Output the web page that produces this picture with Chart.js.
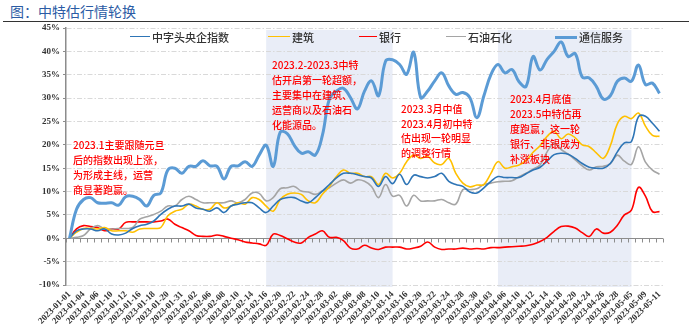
<!DOCTYPE html>
<html>
<head>
<meta charset="utf-8">
<script src="https://cdn.jsdelivr.net/npm/chart.js@4.4.1/dist/chart.umd.min.js"></script>
<style>
  html, body { margin: 0; padding: 0; background: #fff; }
  #wrap { position: relative; width: 689px; height: 324px; overflow: hidden;
          font-family: "Noto Sans CJK SC", "Noto Sans", sans-serif; }
  #title { position: absolute; left: 10px; top: 2px; font-size: 14px; line-height: 18px; color: #2B5BA4; }
  #rule { position: absolute; left: 3px; right: 0; top: 21px; border-top: 1px solid #333; }
  #chart { position: absolute; left: 0; top: 0; }
  .lg { position: absolute; top: 30px; height: 14px; font-size: 11px; font-weight: 500; line-height: 14px; color: #333; white-space: nowrap; }
  .lg i { position: absolute; top: 7px; left: 0; display: block; }
  .note { position: absolute; color: #ff0000; font-size: 10px; font-weight: 500; line-height: 15px; white-space: nowrap; }
</style>
</head>
<body>
<div id="wrap">
  <div id="title">图：中特估行情轮换</div>
  <div id="rule"></div>
  <canvas id="chart" width="689" height="324"></canvas>
  <div id="legend"></div>
  <div class="note" style="left:73px;top:137px">2023.1主要跟随元旦<br>后的指数出现上涨，<br>为形成主线，运营<br>商显著跑赢。</div>
  <div class="note" style="left:272px;top:57px">2023.2-2023.3中特<br>估开启第一轮超额，<br>主要集中在建筑、<br>运营商以及石油石<br>化能源品。</div>
  <div class="note" style="left:401px;top:102px;line-height:14.5px">2023.3月中值<br>2023.4月初中特<br>估出现一轮明显<br>的调整行情</div>
  <div class="note" style="left:510px;top:91px">2023.4月底值<br>2023.5中特估再<br>度跑赢，这一轮<br>银行、非银成为<br>补涨板块</div>
</div>
<script>
// Trading days, 2023-01-01 base through 2023-05-11
const dates = ['2023-01-01','2023-01-03','2023-01-04','2023-01-05','2023-01-06','2023-01-09','2023-01-10','2023-01-11','2023-01-12','2023-01-13',
  '2023-01-16','2023-01-17','2023-01-18','2023-01-19','2023-01-20','2023-01-30','2023-01-31','2023-02-01','2023-02-02','2023-02-03',
  '2023-02-06','2023-02-07','2023-02-08','2023-02-09','2023-02-10','2023-02-13','2023-02-14','2023-02-15','2023-02-16','2023-02-17',
  '2023-02-20','2023-02-21','2023-02-22','2023-02-23','2023-02-24','2023-02-27','2023-02-28','2023-03-01','2023-03-02','2023-03-03',
  '2023-03-06','2023-03-07','2023-03-08','2023-03-09','2023-03-10','2023-03-13','2023-03-14','2023-03-15','2023-03-16','2023-03-17',
  '2023-03-20','2023-03-21','2023-03-22','2023-03-23','2023-03-24','2023-03-27','2023-03-28','2023-03-29','2023-03-30','2023-03-31',
  '2023-04-03','2023-04-04','2023-04-06','2023-04-07','2023-04-10','2023-04-11','2023-04-12','2023-04-13','2023-04-14','2023-04-17',
  '2023-04-18','2023-04-19','2023-04-20','2023-04-21','2023-04-24','2023-04-25','2023-04-26','2023-04-27','2023-04-28','2023-05-04',
  '2023-05-05','2023-05-08','2023-05-09','2023-05-10','2023-05-11'];

// Cumulative return since 2023-01-01, %
const centralSOE = [0,1.6,2.0,2.0,1.6,2.0,0.9,0.7,1.1,2.1,
  2.7,3.0,3.7,5.1,6.2,6.9,6.9,7.3,6.5,6.2,
  5.8,6.5,5.5,6.9,7.3,7.6,7.6,6.5,5.5,6.9,
  8.3,8.7,8.7,8.0,7.6,8.7,10.1,11.5,12.9,13.9,
  13.9,13.6,13.2,12.9,11.1,13.2,11.7,13.7,11.5,13.5,
  13.2,12.9,13.2,13.9,12.2,11.5,11.1,9.9,9.7,10.8,
  12.2,13.2,13.0,13.0,13.0,13.8,14.6,15.2,16.5,17.9,
  18.2,18.0,17.1,16.0,15.2,15.0,15.0,16.0,18.5,20.4,
  20.7,26.0,26.1,24.6,22.9];
const construction = [0,1.3,2.1,2.1,2.0,2.3,1.6,1.6,1.6,1.3,
  2.0,2.1,2.1,2.3,4.8,5.8,6.2,7.3,6.9,6.2,
  6.2,7.6,6.5,6.9,7.6,7.3,8.7,8.3,6.9,5.8,
  8.3,9.4,9.7,9.4,8.0,7.6,9.4,11.1,13.2,14.6,
  13.9,13.9,13.2,13.2,11.5,13.9,12.9,13.9,16.4,17.8,
  17.1,17.5,16.1,15.8,17.1,13.9,11.8,11.0,11.4,11.5,
  13.9,16.4,15.0,15.3,15.7,16.6,18.4,19.8,21.8,22.9,
  21.3,22.3,21.5,20.0,19.6,18.3,17.1,19.8,24.5,26.1,
  25.6,26.8,24.0,22.0,21.8];
const banks = [0,2.0,2.7,2.5,2.3,1.6,2.0,2.0,3.4,3.5,
  3.5,3.5,3.5,3.7,4.1,3.0,2.3,1.6,0.6,0.4,
  0.4,0.7,0.4,0.0,-0.3,-0.8,-1.0,-1.2,-1.5,0.9,
  0.6,-0.1,-0.8,-1.0,0.2,0.9,1.6,0.2,0.2,-0.5,
  -2.1,-2.3,-1.5,-2.1,-2.4,-1.9,-1.9,-1.9,-2.3,-2.1,
  -1.7,-0.8,-1.9,-2.4,-2.3,-2.3,-2.1,-2.3,-2.2,-2.3,
  -2.0,-2.0,-1.9,-1.8,-1.7,-1.6,-1.3,-0.7,0.2,1.5,
  2.5,2.6,2.2,1.2,0.4,2.0,1.1,1.3,2.8,5.0,
  6.0,10.9,9.0,5.7,5.7];
const petroleum = [0,0.2,0.6,2.0,2.7,2.0,2.0,2.1,2.1,2.3,
  4.1,4.6,5.1,5.8,6.9,6.9,8.3,9.0,8.3,7.6,
  7.6,7.6,7.6,8.0,7.6,8.3,9.7,9.6,8.0,8.7,
  10.6,10.8,11.1,10.1,9.9,9.4,10.1,10.8,11.8,12.5,
  11.8,12.5,12.2,11.1,8.7,11.5,9.0,9.2,6.9,9.2,
  8.0,8.0,8.0,8.3,7.6,7.3,10.4,10.4,10.6,11.5,
  11.8,12.1,12.2,12.3,13.2,13.9,14.8,15.7,18.5,20.3,
  19.0,18.0,16.8,15.5,14.6,15.3,15.4,16.0,17.8,16.5,
  15.8,19.6,16.3,14.6,13.7];
const telecom = [0,6.2,8.3,8.7,7.6,7.5,7.6,7.1,8.9,9.0,
  8.3,6.9,9.2,9.7,14.6,15.0,13.9,15.4,15.4,16.6,
  15.5,15.4,12.7,15.4,15.5,16.4,15.4,17.8,19.9,15.4,
  22.7,22.4,19.9,18.2,18.5,17.8,22.0,29.8,31.5,32.1,
  30.1,27.7,31.5,33.7,30.5,37.9,38.2,37.2,35.1,39.8,
  30.1,31.5,33.7,35.4,32.6,30.8,31.2,30.1,25.8,30.5,
  35.0,37.2,35.4,36.1,33.5,32.5,38.9,36.0,38.3,40.0,
  42.0,38.9,39.5,34.5,34.3,32.5,29.8,30.5,33.6,34.3,
  33.6,37.1,32.9,33.2,31.0];

const seriesNames = ['中字头央企指数', '建筑', '银行', '石油石化', '通信服务'];
const axisMin = -10, axisMax = 45, axisStep = 5;
// Highlighted periods of SOE-valuation outperformance
const shadedPeriods = [['2023-02-16', '2023-03-14'], ['2023-04-04', '2023-05-05']];

const colors = ['#2E75B6', '#FFC000', '#FF0000', '#A5A5A5', '#5B9BD5'];
const widths = [1.6, 1.6, 1.6, 1.6, 3];
const legendLeft = [130, 268, 359, 446, 555];
const legendLine = [20, 22, 18, 20, 22];

const tickFont = { family: '"Liberation Serif", serif', weight: 'bold', size: 9 };

const backdrop = {
  id: 'backdrop',
  beforeDraw(chart) {
    const { ctx, chartArea: a, scales: { x } } = chart;
    ctx.save();
    ctx.fillStyle = '#E9EDF7';
    shadedPeriods.forEach(([s, e]) => {
      const x0 = x.getPixelForValue(dates.indexOf(s));
      const x1 = x.getPixelForValue(dates.indexOf(e));
      ctx.fillRect(x0, a.top + 2, x1 - x0, a.bottom - a.top);
    });
    ctx.restore();
  },
  beforeDatasetsDraw(chart) {
    const { ctx, chartArea: a, scales: { x, y } } = chart;
    const y0 = Math.round(y.getPixelForValue(0)) + 0.5;
    ctx.save();
    ctx.strokeStyle = '#8C8C8C';
    ctx.lineWidth = 1;
    ctx.beginPath();
    ctx.moveTo(a.left, y0);
    ctx.lineTo(a.right, y0);
    for (let i = 0; i <= dates.length; i++) {
      const xb = Math.round(x.getPixelForValue(i - 0.5)) + 0.5;
      ctx.moveTo(xb, y0);
      ctx.lineTo(xb, y0 + 4);
    }
    ctx.stroke();
    ctx.restore();
  }
};

const seriesData = [centralSOE, construction, banks, petroleum, telecom];

const chart = new Chart(document.getElementById('chart'), {
  type: 'line',
  data: {
    labels: dates,
    datasets: seriesData.map((d, i) => ({
      label: seriesNames[i],
      data: d,
      borderColor: colors[i],
      borderWidth: widths[i],
      pointRadius: 0,
      tension: 0.4,
      fill: false,
      order: [1, 2, 4, 3, 0][i]
    }))
  },
  options: {
    responsive: false,
    animation: false,
    events: [],
    layout: { padding: { top: 28, right: 26, left: 0, bottom: 0 } },
    plugins: { legend: { display: false }, tooltip: { enabled: false } },
    scales: {
      x: {
        offset: true,
        grid: { display: false, drawTicks: false },
        border: { display: false },
        ticks: {
          autoSkip: false, minRotation: 45, maxRotation: 45, padding: 4,
          color: '#333', font: tickFont,
          callback: (v, i) => (i % 2 === 0 ? dates[i] : '')
        },
        afterFit: s => { s.height = 39; }
      },
      y: {
        min: axisMin, max: axisMax,
        ticks: { stepSize: axisStep, padding: 3, color: '#333', font: tickFont, callback: v => v + '%' },
        grid: { color: '#D9D9D9', lineWidth: 1, drawTicks: true, tickLength: 3, tickColor: '#8C8C8C', tickWidth: 1 },
        border: { display: true, color: '#8C8C8C', width: 1.5, dash: [5, 2, 1.5, 2] },
        afterFit: s => { s.width = 66; }
      }
    }
  },
  plugins: [backdrop]
});

// Legend built from the chart's datasets
const legend = document.getElementById('legend');
chart.data.datasets.forEach((ds, i) => {
  const item = document.createElement('div');
  item.className = 'lg';
  item.style.left = legendLeft[i] + 'px';
  item.style.paddingLeft = (legendLine[i] + 2) + 'px';
  const mark = document.createElement('i');
  mark.style.width = legendLine[i] + 'px';
  mark.style.borderTop = ds.borderWidth + 'px solid ' + ds.borderColor;
  mark.style.marginTop = (-ds.borderWidth / 2) + 'px';
  item.appendChild(mark);
  item.appendChild(document.createTextNode(ds.label));
  legend.appendChild(item);
});
</script>
</body>
</html>
